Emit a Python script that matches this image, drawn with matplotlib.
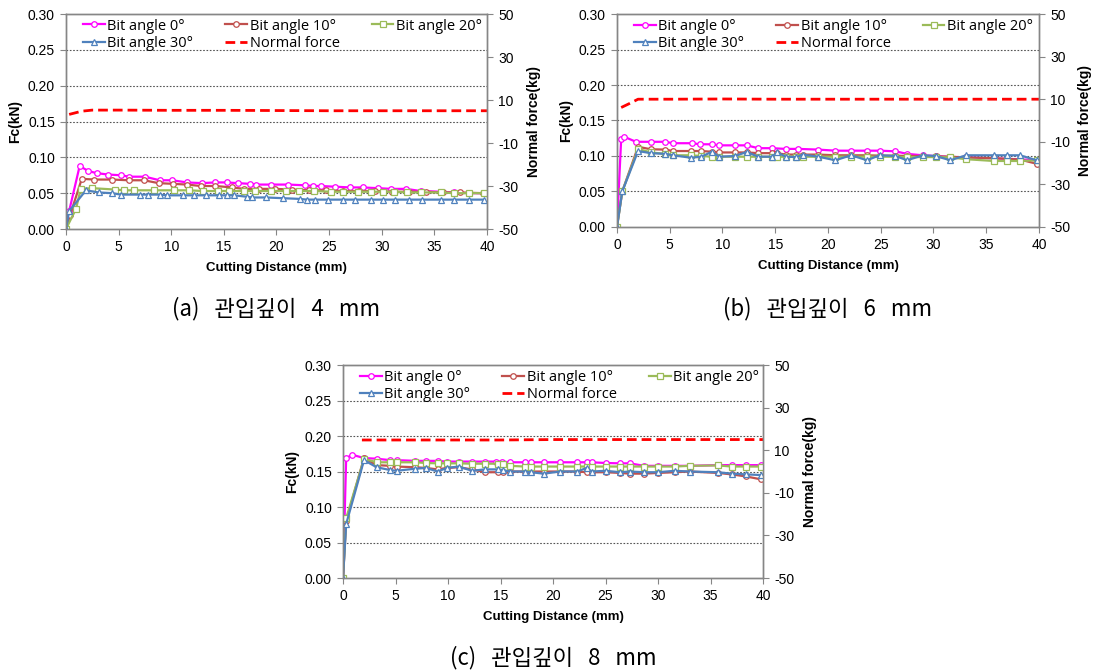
import matplotlib
matplotlib.use("Agg")
import matplotlib.pyplot as plt
from matplotlib.ticker import FormatStrFormatter

plt.rcParams['font.family'] = ['Liberation Sans', 'DejaVu Sans']
plt.rcParams['axes.unicode_minus'] = False

labels = ['Bit angle 0°', 'Bit angle 10°', 'Bit angle 20°', 'Bit angle 30°', 'Normal force']
captions = ['(a)   관입깊이   4   mm', '(b)   관입깊이   6   mm', '(c)   관입깊이   8   mm']

# ---- (a) penetration depth 4 mm ----
a_x0 = [0, 0.3, 1.3, 2.1, 2.9, 4.0, 5.2, 6.0, 7.5, 8.9, 10.1, 11.5, 12.9, 14.2, 15.3, 16.3, 17.5,
        18.1, 19.5, 21.1, 22.7, 23.5, 24.2, 25.6, 27.0, 28.2, 29.6, 30.9, 32.3, 33.7, 35.6, 36.9, 38.3, 39.7]
a_y0 = [0, 0.025, 0.088, 0.081, 0.078, 0.076, 0.075, 0.073, 0.073, 0.068, 0.068, 0.065, 0.064, 0.065,
        0.065, 0.064, 0.063, 0.062, 0.062, 0.062, 0.061, 0.060, 0.060, 0.059, 0.058, 0.058, 0.057, 0.056,
        0.056, 0.053, 0.052, 0.051, 0.050, 0.050]
a_x10 = [0, 0.4, 1.5, 2.7, 4.4, 6.0, 7.4, 8.8, 10.2, 11.5, 12.8, 14.2, 15.8, 16.9, 18.3, 19.9, 21.5,
         23.1, 24.7, 26.3, 27.8, 29.4, 31.0, 32.6, 34.2, 35.8, 37.4, 39.6]
a_y10 = [0, 0.020, 0.070, 0.069, 0.069, 0.068, 0.068, 0.064, 0.063, 0.062, 0.060, 0.060, 0.058, 0.056,
         0.056, 0.056, 0.055, 0.054, 0.054, 0.053, 0.053, 0.053, 0.052, 0.052, 0.052, 0.051, 0.051, 0.050]
a_x20 = [0, 0.95, 1.4, 2.5, 4.7, 5.5, 6.5, 8.4, 10.3, 11.7, 13.0, 14.4, 15.5, 16.9, 18.0, 19.5, 20.9,
         22.1, 23.6, 25.2, 26.3, 27.7, 29.0, 30.1, 31.2, 32.4, 33.7, 35.6, 36.9, 38.3, 39.7]
a_y20 = [0, 0.028, 0.056, 0.057, 0.055, 0.054, 0.054, 0.054, 0.054, 0.054, 0.053, 0.053, 0.053, 0.053,
         0.053, 0.053, 0.053, 0.053, 0.053, 0.052, 0.052, 0.052, 0.052, 0.052, 0.052, 0.051, 0.051, 0.051,
         0.050, 0.050, 0.050]
a_x30 = [0, 0.3, 1.9, 3.1, 4.4, 5.2, 7.0, 7.8, 8.9, 9.6, 11.1, 12.2, 13.3, 14.5, 15.3, 16.0, 17.2, 17.7,
         19.0, 20.6, 22.2, 22.9, 23.7, 24.9, 26.3, 27.5, 29.0, 30.1, 31.3, 32.6, 33.8, 35.6, 36.9, 38.3, 39.7]
a_y30 = [0, 0.025, 0.054, 0.051, 0.050, 0.048, 0.048, 0.048, 0.048, 0.047, 0.047, 0.047, 0.047, 0.047,
         0.047, 0.047, 0.045, 0.044, 0.044, 0.043, 0.042, 0.041, 0.041, 0.041, 0.041, 0.041, 0.041, 0.041,
         0.041, 0.041, 0.041, 0.041, 0.041, 0.041, 0.041]
a_xn = [0.3, 1.5, 2.5, 5, 10, 15, 20, 25, 30, 35, 40]
a_yn = [3.3, 4.8, 5.3, 5.3, 5.2, 5.2, 5.1, 5.0, 5.0, 5.0, 5.0]

# ---- (b) penetration depth 6 mm ----
b_x0 = [0, 0.4, 0.7, 1.8, 3.2, 4.6, 5.3, 7.1, 7.9, 9.0, 9.7, 11.2, 12.3, 13.4, 14.7, 16.0, 17.2, 19.1,
        20.7, 22.2, 23.7, 24.9, 26.4, 27.5, 29.0, 30.2, 31.6, 33.1, 35.7, 38.2, 39.8]
b_y0 = [0, 0.124, 0.127, 0.120, 0.120, 0.120, 0.118, 0.118, 0.1165, 0.1165, 0.115, 0.115, 0.115, 0.111,
        0.111, 0.110, 0.110, 0.109, 0.1075, 0.1075, 0.1075, 0.1075, 0.1066, 0.103, 0.101, 0.100, 0.0986,
        0.098, 0.0967, 0.0953, 0.094]
b_x = [0, 0.5, 2.0, 3.2, 4.6, 5.3, 7.0, 8.0, 9.0, 9.7, 11.2, 12.3, 13.4, 14.7, 15.2, 16.0, 17.0, 17.6,
       19.1, 20.7, 22.2, 23.7, 24.9, 26.4, 27.5, 29.0, 30.2, 31.6, 33.1, 35.7, 37.0, 38.2, 39.8]
b_y10 = [0, 0.050, 0.113, 0.1095, 0.109, 0.107, 0.107, 0.107, 0.106, 0.105, 0.105, 0.105, 0.104, 0.104,
         0.104, 0.102, 0.102, 0.102, 0.102, 0.101, 0.101, 0.101, 0.1005, 0.1005, 0.100, 0.100, 0.0995,
         0.099, 0.098, 0.097, 0.096, 0.095, 0.089]
b_y20 = [0, 0.050, 0.110, 0.105, 0.103, 0.101, 0.101, 0.100, 0.099, 0.099, 0.099, 0.099, 0.099, 0.099,
         0.099, 0.099, 0.099, 0.099, 0.099, 0.099, 0.099, 0.099, 0.099, 0.099, 0.0985, 0.0985, 0.0985,
         0.098, 0.0955, 0.093, 0.093, 0.093, 0.094]
b_y30 = [0, 0.050, 0.107, 0.104, 0.103, 0.101, 0.0976, 0.099, 0.106, 0.099, 0.100, 0.1057, 0.099, 0.099,
         0.105, 0.099, 0.0985, 0.102, 0.099, 0.094, 0.101, 0.094, 0.101, 0.100, 0.094, 0.101, 0.100, 0.094,
         0.101, 0.101, 0.101, 0.101, 0.094]
b_xn = [0.4, 1.2, 2.0, 5, 10, 15, 20, 25, 30, 35, 40]
b_yn = [6.1, 8.0, 10.0, 10.0, 10.1, 10.0, 10.0, 10.0, 10.0, 10.0, 10.0]

# ---- (c) penetration depth 8 mm ----
c_x0 = [0, 0.3, 0.9, 2.0, 3.2, 4.5, 5.1, 6.9, 7.9, 9.0, 9.9, 11.0, 12.3, 13.5, 14.6, 15.1, 15.9, 17.3,
        17.9, 19.1, 20.7, 22.3, 23.2, 23.7, 25.0, 26.4, 27.3, 28.7, 30.0, 31.6, 33.0, 35.7, 37.0, 38.4, 39.8]
c_y0 = [0, 0.169, 0.1735, 0.169, 0.168, 0.166, 0.166, 0.165, 0.165, 0.165, 0.164, 0.164, 0.164, 0.164,
        0.164, 0.164, 0.163, 0.163, 0.163, 0.163, 0.163, 0.163, 0.163, 0.163, 0.162, 0.1615, 0.1615, 0.158,
        0.158, 0.158, 0.158, 0.159, 0.159, 0.159, 0.159]
c_x = [0, 0.3, 2.0, 3.2, 4.5, 5.1, 6.9, 7.9, 9.0, 9.9, 11.0, 12.3, 13.5, 14.8, 15.2, 15.9, 17.3, 17.9,
       19.1, 20.7, 22.3, 23.2, 23.7, 25.0, 26.4, 27.3, 28.7, 30.0, 31.6, 33.0, 35.7, 37.0, 38.4, 39.8]
c_y10 = [0, 0.080, 0.169, 0.159, 0.158, 0.157, 0.156, 0.155, 0.153, 0.155, 0.156, 0.153, 0.149, 0.149,
         0.149, 0.150, 0.150, 0.150, 0.150, 0.150, 0.150, 0.149, 0.149, 0.149, 0.148, 0.147, 0.147, 0.148,
         0.149, 0.150, 0.148, 0.146, 0.143, 0.139]
c_y20 = [0, 0.084, 0.168, 0.163, 0.163, 0.163, 0.163, 0.162, 0.1615, 0.1615, 0.1615, 0.161, 0.161, 0.161,
         0.160, 0.158, 0.157, 0.157, 0.157, 0.157, 0.157, 0.157, 0.157, 0.157, 0.157, 0.157, 0.157, 0.157,
         0.157, 0.158, 0.1586, 0.157, 0.157, 0.157]
c_y30 = [0, 0.076, 0.166, 0.156, 0.152, 0.151, 0.154, 0.155, 0.150, 0.155, 0.157, 0.151, 0.153, 0.153,
         0.152, 0.150, 0.150, 0.149, 0.147, 0.150, 0.150, 0.155, 0.150, 0.151, 0.149, 0.150, 0.149, 0.149,
         0.151, 0.150, 0.149, 0.147, 0.146, 0.145]
c_xn = [1.8, 5, 10, 15, 20, 25, 30, 35, 40]
c_yn = [14.8, 14.8, 14.8, 14.8, 15.0, 15.0, 15.0, 15.0, 15.0]

colors = ['#FF00FF', '#C0504D', '#9BBB59', '#4F81BD', '#FF0000']
markers = ['o', 'o', 's', '^']
frame = '#868686'


def draw_panel(rect, series, normal, caption, cap_y):
    ax = fig.add_axes(rect)
    handles = []
    for (xs, ys), c, m, lab in zip(series, colors, markers, labels):
        h, = ax.plot(xs, ys, color=c, lw=1.6, marker=m, ms=4.0, mfc='white', mec=c, mew=0.9, label=lab)
        handles.append(h)
    ax.set_xlim(0, 40)
    ax.set_ylim(0, 0.30)
    ax.set_xticks(range(0, 41, 5))
    ax.set_yticks([0, 0.05, 0.10, 0.15, 0.20, 0.25, 0.30])
    ax.yaxis.set_major_formatter(FormatStrFormatter('%.2f'))
    for yv in [0.05, 0.10, 0.15, 0.20, 0.25]:
        ax.axhline(yv, color='#555555', lw=0.8, ls=(0, (1.5, 1.5)), zorder=0)
    ax.tick_params(labelsize=10, length=4, color=frame, width=0.8, pad=4)
    ax.set_ylabel('Fc(kN)', fontsize=10, fontweight='bold', labelpad=4)
    ax.set_xlabel('Cutting Distance (mm)', fontsize=9.5, fontweight='bold', labelpad=6)
    for s in ax.spines.values():
        s.set_color(frame)
        s.set_linewidth(1.0)

    ax2 = ax.twinx()
    hn, = ax2.plot(normal[0], normal[1], color=colors[4], lw=2.0, dashes=(3.5, 1.8), label=labels[4])
    ax2.set_ylim(-50, 50)
    ax2.set_yticks(range(-50, 51, 20))
    ax2.tick_params(labelsize=10, length=4, color=frame, width=0.8, pad=4)
    ax2.set_ylabel('Normal force(kg)', fontsize=10, fontweight='bold', labelpad=6)
    for s in ax2.spines.values():
        s.set_color(frame)
        s.set_linewidth(1.0)
    ax.set_zorder(ax2.get_zorder() + 1)
    ax.patch.set_visible(False)

    order = [handles[0], handles[3], handles[1], hn, handles[2]]
    ax.legend(order, [h.get_label() for h in order], ncol=3, loc='upper left',
              bbox_to_anchor=(0.01, 1.04), frameon=False, prop={'family': 'Open Sans', 'size': 10.5},
              handlelength=1.5, handletextpad=0.15, columnspacing=2.2, labelspacing=0.15)

    cx = rect[0] + rect[2] / 2
    fig.text(cx, cap_y, caption, ha='center', va='center', fontsize=16,
             family=['Noto Sans CJK KR', 'DejaVu Sans'])


fig = plt.figure(figsize=(10.98, 6.70), dpi=100)

draw_panel([0.0601, 0.6582, 0.3834, 0.3209],
           [(a_x0, a_y0), (a_x10, a_y10), (a_x20, a_y20), (a_x30, a_y30)], (a_xn, a_yn), captions[0], 0.540)
draw_panel([0.5619, 0.6612, 0.3843, 0.3179],
           [(b_x0, b_y0), (b_x, b_y10), (b_x, b_y20), (b_x, b_y30)], (b_xn, b_yn), captions[1], 0.540)
draw_panel([0.3124, 0.1373, 0.3825, 0.3179],
           [(c_x0, c_y0), (c_x, c_y10), (c_x, c_y20), (c_x, c_y30)], (c_xn, c_yn), captions[2], 0.018)

fig.savefig('out.png', dpi=100)
